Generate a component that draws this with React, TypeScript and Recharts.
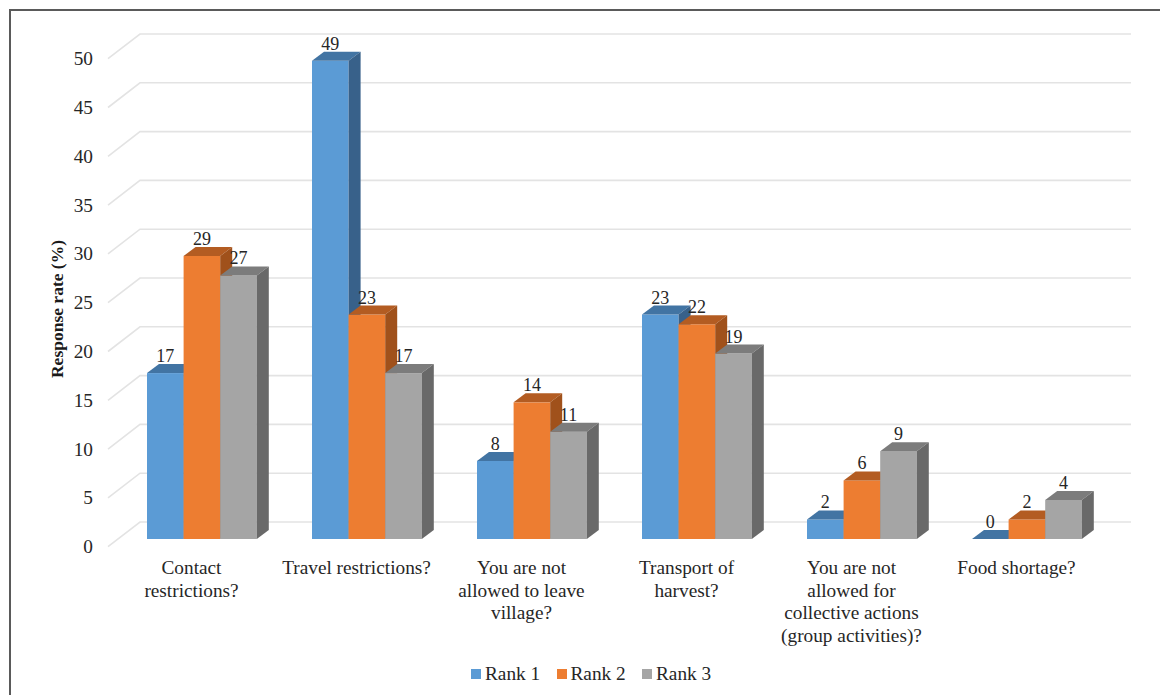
import React from 'react';
import { BarChart, Bar, XAxis, YAxis, CartesianGrid, Legend, LabelList } from 'recharts';

const categories = [
  'Contact\nrestrictions?',
  'Travel restrictions?',
  'You are not\nallowed to leave\nvillage?',
  'Transport of\nharvest?',
  'You are not\nallowed for\ncollective actions\n(group activities)?',
  'Food shortage?',
];
const rank1 = [17, 49, 8, 23, 2, 0];
const rank2 = [29, 23, 14, 22, 6, 2];
const rank3 = [27, 17, 11, 19, 9, 4];
const yTicks = [0, 5, 10, 15, 20, 25, 30, 35, 40, 45, 50];

const chartData = categories.map((name, i) => ({
  name,
  'Rank 1': rank1[i],
  'Rank 2': rank2[i],
  'Rank 3': rank3[i],
}));

const FONT = '"Liberation Serif", "Times New Roman", serif';
const TEXT = '#262626';
const GRID = '#e3e3e3';

// Extrusion of each bar, and how far the floor and walls sit from the bar plane.
const DEPTH_X = 12;
const DEPTH_Y = 9;
const WALL_UP = 17;
const FRONT_DOWN = 7.7;
const AXIS_X = 108;
const WALL_X = 140;
const WALL_END = 1131;

const palette = {
  'Rank 1': { front: '#5b9bd5', top: '#4274a3', side: '#38618a' },
  'Rank 2': { front: '#ed7d31', top: '#b35c22', side: '#a0511b' },
  'Rank 3': { front: '#a5a5a5', top: '#7c7c7c', side: '#696969' },
};

function Box3D(props: any) {
  const { x, y, width, height, colors } = props;
  const dx = DEPTH_X;
  const dy = DEPTH_Y;
  const right = x + width;
  const bottom = y + height;
  return (
    <g>
      {height > 0 && <rect x={x} y={y} width={width} height={height} fill={colors.front} />}
      <polygon
        points={`${x},${y} ${x + dx},${y - dy} ${right + dx},${y - dy} ${right},${y}`}
        fill={colors.top}
      />
      {height > 0 && (
        <polygon
          points={`${right},${y} ${right + dx},${y - dy} ${right + dx},${bottom - dy} ${right},${bottom}`}
          fill={colors.side}
        />
      )}
    </g>
  );
}

function WallLine(props: any) {
  const { y1 } = props;
  return (
    <polyline
      key={`wall-${y1}`}
      points={`${AXIS_X},${y1 + FRONT_DOWN} ${WALL_X},${y1 - WALL_UP} ${WALL_END},${y1 - WALL_UP}`}
      fill="none"
      stroke={GRID}
      strokeWidth={1.6}
    />
  );
}

function ValueTick(props: any) {
  const { y, payload } = props;
  return (
    <text x={93} y={y + FRONT_DOWN + 6.5} textAnchor="end" fontFamily={FONT} fontSize={19.3} fill={TEXT}>
      {payload.value}
    </text>
  );
}

function CategoryTick(props: any) {
  const { x, payload } = props;
  const lines = String(payload.value).split('\n');
  return (
    <text textAnchor="middle" fontFamily={FONT} fontSize={19.3} fill={TEXT}>
      {lines.map((line, i) => (
        <tspan key={line} x={x - 10} y={574 + i * 22.6}>
          {line}
        </tspan>
      ))}
    </text>
  );
}

function ValueLabel(props: any) {
  const { x, y, width, value } = props;
  return (
    <text x={x + width / 2} y={y - 11} textAnchor="middle" fontFamily={FONT} fontSize={18} fill={TEXT}>
      {value}
    </text>
  );
}

function AxisTitle() {
  const cy = 309;
  return (
    <text
      x={63}
      y={cy}
      transform={`rotate(-90 63 ${cy})`}
      textAnchor="middle"
      fontFamily={FONT}
      fontWeight="bold"
      fontSize={17.5}
      fill="#1a1a1a"
    >
      Response rate (%)
    </text>
  );
}

function RankLegend({ payload }: any) {
  return (
    <div style={{ display: 'flex', fontFamily: FONT, fontSize: 19.3, color: TEXT, lineHeight: '22px' }}>
      {(payload || []).map((entry: any) => (
        <div key={entry.value} style={{ display: 'flex', alignItems: 'center', width: 85.5 }}>
          <span style={{ width: 10, height: 10, background: entry.color, marginRight: 4, display: 'inline-block' }} />
          {entry.value}
        </div>
      ))}
    </div>
  );
}

const seriesKeys = ['Rank 1', 'Rank 2', 'Rank 3'] as const;

export default function App() {
  return (
    <div style={{ position: 'absolute', left: 0, top: 0, width: 1160, height: 695, background: '#fff', overflow: 'hidden' }}>
      {/* Only the top and left edges of the outer frame are visible. */}
      <div
        style={{
          position: 'absolute',
          left: 9,
          top: 9,
          width: 1200,
          height: 800,
          borderTop: '2px solid #5a5a5a',
          borderLeft: '2px solid #5a5a5a',
          boxSizing: 'border-box',
        }}
      />
      <BarChart
        width={1160}
        height={695}
        data={chartData}
        margin={{ top: 51, right: 51, bottom: 56, left: 0 }}
        barSize={36.6}
        barGap={0}
        style={{ position: 'absolute', left: 0, top: 0 }}
      >
        <CartesianGrid vertical={false} horizontal={WallLine as any} />
        <XAxis
          dataKey="name"
          height={100}
          axisLine={false}
          tickLine={false}
          interval={0}
          tick={CategoryTick as any}
        />
        <YAxis
          domain={[0, 50]}
          ticks={yTicks}
          width={119}
          axisLine={false}
          tickLine={false}
          tick={ValueTick as any}
          label={AxisTitle as any}
        />
        <Legend
          verticalAlign="middle"
          content={RankLegend as any}
          wrapperStyle={{ position: 'absolute', left: 471, top: 663, width: 280, bottom: 'auto' }}
        />
        {seriesKeys.map((key) => (
          <Bar
            key={key}
            dataKey={key}
            fill={palette[key].front}
            isAnimationActive={false}
            shape={(p: any) => <Box3D {...p} colors={palette[key]} />}
          >
            <LabelList dataKey={key} content={ValueLabel as any} />
          </Bar>
        ))}
      </BarChart>
    </div>
  );
}
